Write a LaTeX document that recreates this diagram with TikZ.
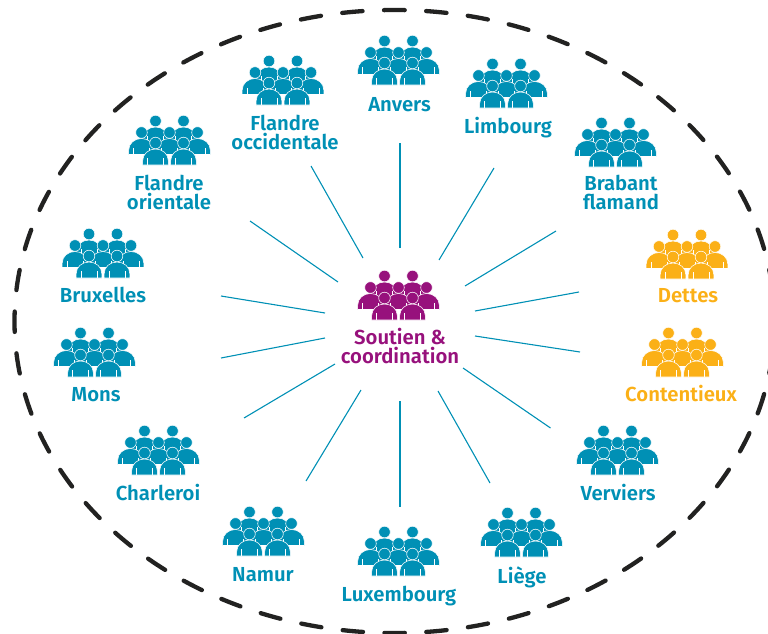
\documentclass[tikz,border=0pt]{standalone}
\usepackage{fontspec}
\setmainfont{Fira Sans}[BoldFont={Fira Sans SemiBold}]
\definecolor{teamblue}{HTML}{0090B5}
\definecolor{teamorange}{HTML}{FBB017}
\definecolor{teampurple}{HTML}{97117C}
\definecolor{ringblack}{HTML}{222221}
\newcommand{\onePerson}[3]{%
	\filldraw[fill=#3,draw=white,line width=.55pt] ({#1-12.8},#2) -- ++(0,4.5) .. controls ({#1-12.8},{#2+11}) and ({#1-7},{#2+16}) .. ({#1},{#2+16}) .. controls ({#1+7},{#2+16}) and ({#1+12.8},{#2+11}) .. ({#1+12.8},{#2+4.5}) -- ({#1+12.8},#2) -- cycle;
	\draw[white,line width=.5pt] ({#1-8},#2) -- ++(0,7) ({#1+8},#2) -- ++(0,7);
	\filldraw[fill=#3,draw=white,line width=.55pt] (#1,{#2+22}) circle[radius=5.8];
}
\tikzset{
	pics/team/.style={code={
		\begin{scope}[y=1pt]
			\foreach \px in {-14,14} {\onePerson{\px}{22}{#1}}
			\foreach \px in {-28,0,28} {\onePerson{\px}{10.5}{#1}}
			\foreach \px in {-14,14} {\onePerson{\px}{0}{#1}}
		\end{scope}
	}},
	spoke/.style={teamblue,line width=1.1pt},
	teamlabel/.style={font=\bfseries\fontsize{20.3}{19}\selectfont,align=center,inner sep=0pt},
}
\begin{document}
\begin{tikzpicture}[x=1pt,y=-1pt]
	\useasboundingbox (0,0) rectangle (768,634);
	\draw[ringblack,line width=4.3pt,line cap=round,dash pattern=on 20.4pt off 21.48pt,dash phase=10.2pt] (394.5,10) arc[start angle=270, end angle=630, x radius=380, y radius=311.5];

	\foreach \nm/\ax/\ay/\bx/\by in {anvers/400/248/400/143, limbourg/439/260/494/168, brabant/465/286/556/231, dettes/475/311/579/292, contentieux/475/336/580/352, verviers/463/368/550.5/428, liege/438/391/490/483, luxembourg/400/401/400/507, namur/361/390/306/481, charleroi/335/364/244/418, mons/325/338/221/358, bruxelles/325/313/221/296, orientale/338/282/250/221, occidentale/363/258/311/166}{
		\coordinate (\nm-in) at (\ax,\ay);
		\coordinate (\nm-out) at (\bx,\by);
		\draw[spoke] (\nm-in) -- (\nm-out);
	}

	\pic at (398.5,320) {team=teampurple};
	\node[teamlabel,teampurple] (soutien) at (400,346.5) {Soutien \&\\coordination};

	\foreach \nm/\ix/\iy/\tx/\ty/\txt in {anvers/398.5/85/399.5/105/Anvers, limbourg/506.5/108/508/128/Limbourg, brabant/615.5/167/621/192.5/{Brabant\\flamand}, verviers/617.5/475/618/493/Verviers, liege/521.5/557/522/577/Liège, luxembourg/398.5/576/399/596/Luxembourg, namur/263.5/556/263/575/Namur, charleroi/158.5/475/158/493/Charleroi, mons/94.5/377/96/395/Mons, bruxelles/103/278/103/295/Bruxelles, orientale/169.5/165/169/192.5/{Flandre\\orientale}, occidentale/283/105/285/132.5/{Flandre\\occidentale}}{
		\pic at (\ix,\iy) {team=teamblue};
		\node[teamlabel,teamblue] (\nm) at (\tx,\ty) {\txt};
	}
	\pic at (687,279) {team=teamorange};
	\node[teamlabel,teamorange] (dettes) at (688,296) {Dettes};
	\pic at (682.5,377) {team=teamorange};
	\node[teamlabel,teamorange] (contentieux) at (681,394) {Contentieux};
\end{tikzpicture}
\end{document}
